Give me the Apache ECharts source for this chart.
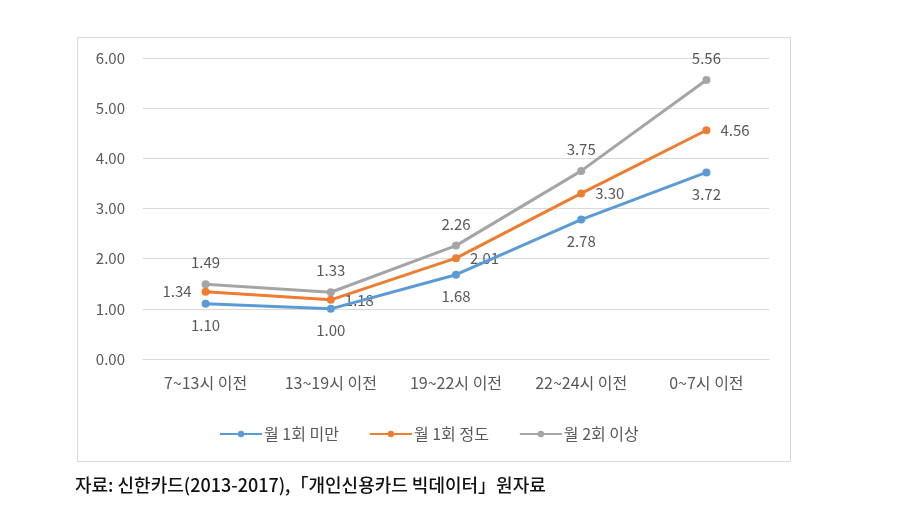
<!DOCTYPE html>
<html>
<head>
<meta charset="utf-8">
<script src="https://cdn.jsdelivr.net/npm/echarts@6/dist/echarts.min.js"></script>
<style>
html,body{margin:0;padding:0;background:#fff;}
#chart{width:911px;height:510px;}
</style>
</head>
<body>
<div id="chart"></div>
<script>
const categories = ['7~13시 이전', '13~19시 이전', '19~22시 이전', '22~24시 이전', '0~7시 이전'];
const seriesNames = ['월 1회 미만', '월 1회 정도', '월 2회 이상'];
const lessThanOnce = [1.10, 1.00, 1.68, 2.78, 3.72];
const aboutOnce = [1.34, 1.18, 2.01, 3.30, 4.56];
const twiceOrMore = [1.49, 1.33, 2.26, 3.75, 5.56];
const yTicks = [0, 1, 2, 3, 4, 5, 6];
const sourceText = '자료: 신한카드(2013-2017),「개인신용카드 빅데이터」원자료';

const font = '"Noto Sans CJK KR", "Noto Sans", sans-serif';
const colors = ['#5B9BD5', '#ED7D31', '#A5A5A5'];
const labelPos = [
  ['bottom','bottom','bottom','bottom','bottom'],
  ['left','right','right','right','right'],
  ['top','top','top','top','top']
];
const dataSets = [lessThanOnce, aboutOnce, twiceOrMore];

const chart = echarts.init(document.getElementById('chart'));
chart.setOption({
  animation: false,
  backgroundColor: '#fff',
  textStyle: { fontFamily: font },
  grid: { left: 143, right: 142, top: 58, bottom: 151 },
  legend: {
    bottom: 63,
    left: 214,
    itemWidth: 42,
    itemHeight: 8,
    itemGap: 30,
    textStyle: { fontSize: 16, color: '#595959', fontFamily: font, padding: [0, 0, 0, -3] },
    data: seriesNames
  },
  xAxis: {
    type: 'category',
    data: categories,
    boundaryGap: true,
    axisLine: { lineStyle: { color: '#d9d9d9' } },
    axisTick: { show: false },
    axisLabel: { fontSize: 16, color: '#595959', margin: 16, fontFamily: font }
  },
  yAxis: {
    type: 'value',
    min: yTicks[0],
    max: yTicks[yTicks.length - 1],
    interval: 1,
    axisLine: { show: false },
    axisTick: { show: false },
    splitLine: { lineStyle: { color: '#d9d9d9' } },
    axisLabel: { fontSize: 15, color: '#595959', margin: 18, formatter: v => v.toFixed(2), fontFamily: font }
  },
  series: dataSets.map((d, i) => ({
    name: seriesNames[i],
    type: 'line',
    data: d.map((v, j) => ({
      value: v,
      label: { position: labelPos[i][j] }
    })),
    symbol: 'circle',
    symbolSize: 8,
    lineStyle: { width: 3, color: colors[i] },
    itemStyle: { color: colors[i] },
    label: {
      show: true,
      fontSize: 15,
      color: '#595959',
      distance: 10,
      fontFamily: font,
      formatter: p => p.value.toFixed(2)
    },
    z: 3 - i
  })),
  graphic: [
    {
      type: 'rect',
      shape: { x: 77.5, y: 37.5, width: 713, height: 424 },
      style: { fill: 'none', stroke: '#d9d9d9', lineWidth: 1 },
      silent: true,
      z: -1
    },
    {
      type: 'text',
      left: 75,
      top: 476,
      style: { text: sourceText, fontSize: 18, fontWeight: 500, fill: '#111', fontFamily: font }
    }
  ]
});
</script>
</body>
</html>
